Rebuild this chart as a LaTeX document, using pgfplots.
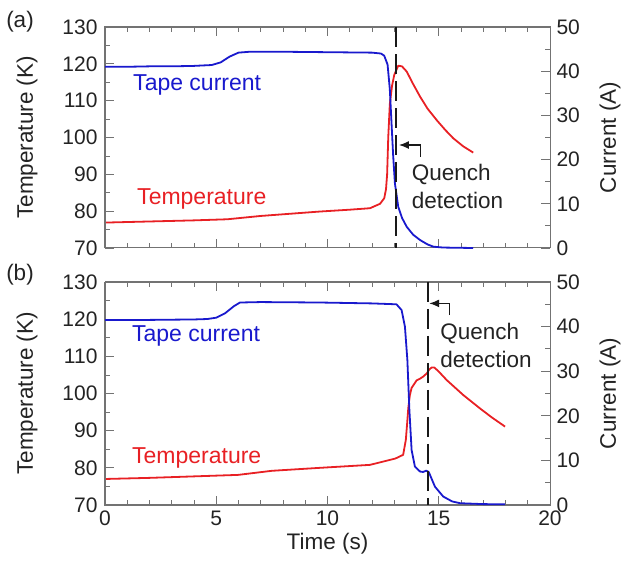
\documentclass[border=0pt]{standalone}
\usepackage{fontspec}
\setmainfont{Liberation Sans}
\usepackage{pgfplots}
\pgfplotsset{compat=1.18}
\usetikzlibrary{arrows.meta}
\definecolor{cblue}{RGB}{25,25,205}
\definecolor{cred}{RGB}{232,32,36}
\definecolor{axgray}{RGB}{115,115,115}
\definecolor{txt}{RGB}{35,35,35}

\pgfplotsset{
  base/.style={
    scale only axis, width=445pt,
    xmin=0, xmax=20, 
    tick align=inside,
    tick style={axgray, line width=0.8pt},
    major tick length=9pt, minor tick length=5pt,
    axis line style={axgray, line width=1pt},
    /pgf/number format/assume math mode=true,
    tick label style={font=\fontsize{21}{24}\selectfont, text=txt},
    label style={font=\fontsize{22.5}{26}\selectfont, text=txt},
    clip=false,
  },
  taxis/.style={base,
    ymin=70, ymax=130, ytick={70,80,...,130}, minor y tick num=1,
    xtick={0,5,...,20}, minor x tick num=4,
    ytick pos=left, xtick pos=both, xticklabel pos=lower,
    yticklabel style={xshift=-4pt},
    xticklabel style={yshift=-5pt, inner sep=1pt},
    ylabel={Temperature (K)},
    ylabel style={at={(axis description cs:-0.175,0.5)}, anchor=center},
  },
  caxis/.style={base,
    ymin=0, ymax=50, ytick={0,10,...,50}, minor y tick num=1,
    xtick=\empty,
    ytick pos=right, yticklabel pos=right,
    yticklabel style={xshift=3pt, inner ysep=1pt},
    ylabel={Current (A)},
    ylabel style={at={(axis description cs:1.135,0.5)}, anchor=center},
  },
}
\tikzset{
  curve/.style={line width=1.8pt, line join=round},
  qline/.style={black!90, line width=2pt, dash pattern=on 20pt off 7pt},
  qarrow/.style={black!90, line width=1.4pt, -{Latex[length=10pt,width=8pt]}},
  lbl/.style={anchor=west, inner sep=0, font=\fontsize{23}{26}\selectfont},
}

\begin{document}
\begin{tikzpicture}
\path[use as bounding box] (0,0) rectangle (635pt,560pt);

% ---------------- panel (a) ----------------
\begin{axis}[taxis, at={(105pt,312pt)}, anchor=south west, height=221pt, xticklabels={}]
\addplot[cred, curve] coordinates {
(0,76.9) (2,77.2) (4,77.5) (5.5,77.8) (7,78.7) (9.66,79.9) (11,80.4) (11.91,80.8)
(12.36,82.0) (12.55,83.5) (12.63,86) (12.68,90) (12.73,100) (12.8,109) (12.9,114)
(13.0,117) (13.18,119.5) (13.35,119.3) (13.56,117.9) (13.85,114.5) (14.16,111.1)
(14.5,107.8) (14.91,104.7) (15.3,102) (15.65,99.8) (16.1,97.6) (16.55,95.9)};
\node[cred, lbl] at (axis cs:1.44,83.3) {Temperature};
\end{axis}
\begin{axis}[caxis, at={(105pt,312pt)}, anchor=south west, height=221pt]
\addplot[cblue, curve] coordinates {
(0,41.0) (1,41.0) (2,41.1) (3,41.1) (4,41.2) (4.8,41.4) (5.2,42.0) (5.6,43.3)
(6.0,44.2) (6.5,44.4) (8,44.4) (10,44.3) (12,44.2) (12.4,44.0) (12.55,43.5)
(12.7,41.5) (12.8,36) (12.88,28) (12.95,21) (13.03,14.6) (13.18,9.3) (13.35,6.8)
(13.56,4.8) (13.85,3.0) (14.16,1.8) (14.5,0.8) (14.76,0.3) (15.2,0.1) (16.55,0)};
\node[cblue, lbl] at (axis cs:1.26,36.9) {Tape current};
\draw[qline] (axis cs:13.1,50) -- (axis cs:13.1,0);
\draw[qarrow] (axis cs:14.18,20.7) -- (axis cs:14.18,23.3) -- (axis cs:13.21,23.3);
\node[txt, lbl, align=left, font=\fontsize{22.5}{28}\selectfont] at (axis cs:13.78,14.0) {Quench\\detection};
\end{axis}

% ---------------- panel (b) ----------------
\begin{axis}[taxis, at={(105pt,55pt)}, anchor=south west, height=223pt,
  xlabel={Time (s)}, xlabel style={at={(axis description cs:0.5,-0.175)}, anchor=center}]
\addplot[cred, curve] coordinates {
(0,77.0) (2,77.3) (4,77.7) (5.98,78.1) (7.5,79.2) (9.66,80.0) (11.91,80.8) (13.05,82.5)
(13.4,83.5) (13.52,87.5) (13.58,92) (13.63,96) (13.7,99.5) (13.78,101.5) (14.0,103.5)
(14.16,104.0) (14.31,104.6) (14.46,105.4) (14.58,106.5) (14.68,107.0) (14.8,107.0)
(15.0,105.9) (15.36,103.6) (16.1,99.6) (16.85,96.0) (17.4,93.5) (17.98,91.1)};
\node[cred, lbl] at (axis cs:1.21,82.6) {Temperature};
\end{axis}
\begin{axis}[caxis, at={(105pt,55pt)}, anchor=south west, height=223pt]
\addplot[cblue, curve] coordinates {
(0,41.5) (2,41.5) (4,41.6) (4.6,41.7) (5.0,42.0) (5.4,43.0) (5.8,44.6) (6.07,45.4)
(7,45.5) (9.66,45.4) (12,45.2) (13.1,45.0) (13.33,43.7) (13.48,40.0) (13.59,32.5)
(13.68,21.3) (13.78,12.3) (13.93,8.6) (14.16,7.5) (14.3,7.4) (14.43,7.7) (14.55,7.4)
(14.61,6.7) (14.83,4.1) (15.2,1.9) (15.6,0.8) (15.96,0.4) (17,0.2) (17.98,0.15)};
\node[cblue, lbl] at (axis cs:1.21,37.9) {Tape current};
\draw[qline] (axis cs:14.5,50) -- (axis cs:14.5,0);
\draw[qarrow] (axis cs:15.47,42.6) -- (axis cs:15.47,45.2) -- (axis cs:14.57,45.2);
\node[txt, lbl, align=left, font=\fontsize{22.5}{28}\selectfont] at (axis cs:15.06,35.7) {Quench\\detection};
\end{axis}

\node[txt, font=\fontsize{22.5}{26}\selectfont] at (20pt,538pt) {(a)};
\node[txt, font=\fontsize{22.5}{26}\selectfont] at (20pt,285pt) {(b)};
\end{tikzpicture}
\end{document}
